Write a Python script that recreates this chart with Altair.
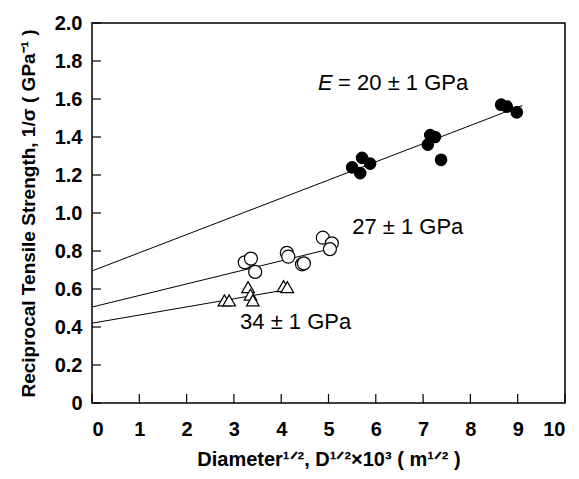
import altair as alt
import pandas as pd

# E = 20 GPa (filled circles)
black_x = [5.50, 5.71, 5.88, 5.67, 7.15, 7.10, 7.25, 7.38, 8.65, 8.77, 8.98]
black_y = [1.24, 1.29, 1.26, 1.21, 1.41, 1.36, 1.40, 1.28, 1.57, 1.56, 1.53]
# E = 27 GPa (open circles)
open_x = [3.23, 3.36, 3.45, 4.12, 4.15, 4.44, 4.48, 4.88, 5.07, 5.03]
open_y = [0.74, 0.76, 0.69, 0.79, 0.77, 0.73, 0.735, 0.87, 0.84, 0.81]
# E = 34 GPa (open triangles)
tri_x = [2.80, 2.90, 3.30, 3.35, 3.40, 4.05, 4.13]
tri_y = [0.54, 0.54, 0.61, 0.57, 0.54, 0.615, 0.61]

# fitted lines: start/end points
fit_group = ["20", "27", "34"]
fit_x0 = [0.0, 0.0, 0.0]
fit_y0 = [0.695, 0.505, 0.42]
fit_x1 = [9.1, 5.1, 4.2]
fit_y1 = [1.566, 0.815, 0.60]

# annotation labels
lab_text = ["= 20 \u00b1 1 GPa", "27 \u00b1 1 GPa", "34 \u00b1 1 GPa"]
lab_x = [4.78, 5.5, 3.13]
lab_y = [1.685, 0.926, 0.426]

x_ticks = list(range(0, 11))
y_ticks = [0, 0.2, 0.4, 0.6, 0.8, 1.0, 1.2, 1.4, 1.6, 1.8, 2.0]

df_black = pd.DataFrame({"x": black_x, "y": black_y})
df_open = pd.DataFrame({"x": open_x, "y": open_y})
df_tri = pd.DataFrame({"x": tri_x, "y": tri_y})
df_fit = pd.DataFrame({"g": fit_group, "x": fit_x0, "y": fit_y0, "x2": fit_x1, "y2": fit_y1})
df_lab = pd.DataFrame({"t": lab_text, "x": lab_x, "y": lab_y})
df_e = df_lab.iloc[[0]]
df_xt = pd.DataFrame({"v": x_ticks})
df_yt = pd.DataFrame({"v": y_ticks})

FONT = "Liberation Sans"

xscale = alt.Scale(domain=[0, 10], nice=False, zero=False)
yscale = alt.Scale(domain=[0, 2], nice=False, zero=False)

xaxis = alt.Axis(
    values=x_ticks, title="Diameter\u00b9\u141f\u00b2, D\u00b9\u141f\u00b2\u00d710\u00b3 ( m\u00b9\u141f\u00b2 )",
    grid=False, domain=False, ticks=False, labelPadding=16,
    labelFontSize=20, labelFontWeight="bold", labelFont=FONT, labelColor="black",
    titleFontSize=20, titleFontWeight="bold", titleFont=FONT, titleColor="black",
    titlePadding=10,
)
yaxis = alt.Axis(
    values=y_ticks, title="Reciprocal Tensile Strength, 1/\u03c3 ( GPa\u207b\u00b9 )",
    grid=False, domain=False, ticks=False, labelPadding=10,
    labelExpr="datum.value == 0 ? '0' : format(datum.value, '.1f')",
    labelFontSize=20, labelFontWeight="bold", labelFont=FONT, labelColor="black",
    titleFontSize=19, titleFontWeight="bold", titleFont=FONT, titleColor="black",
    titlePadding=16,
)

X = lambda: alt.X("x:Q", scale=xscale, axis=xaxis)
Y = lambda: alt.Y("y:Q", scale=yscale, axis=yaxis)

lines = alt.Chart(df_fit).mark_rule(color="black", strokeWidth=1).encode(
    x=X(), y=Y(), x2="x2:Q", y2="y2:Q"
)
black = alt.Chart(df_black).mark_point(
    shape="circle", filled=True, color="black", size=160, opacity=1
).encode(x=X(), y=Y())
opens = alt.Chart(df_open).mark_point(
    shape="circle", filled=True, fill="white", stroke="black", strokeWidth=1.2, size=170, opacity=1
).encode(x=X(), y=Y())
tris = alt.Chart(df_tri).mark_point(
    shape="triangle-up", filled=True, fill="white", stroke="black", strokeWidth=1.2, size=160, opacity=1
).encode(x=X(), y=Y())

# first label shifted right to make room for italic E
lab_first = alt.Chart(df_e).mark_text(
    align="left", baseline="middle", font=FONT, fontSize=22, color="black", dx=20
).encode(x=X(), y=Y(), text="t:N")
lab_rest = alt.Chart(df_lab.iloc[1:]).mark_text(
    align="left", baseline="middle", font=FONT, fontSize=22, color="black"
).encode(x=X(), y=Y(), text="t:N")
lab_E = alt.Chart(df_e).mark_text(
    align="left", baseline="middle", font=FONT, fontSize=22, fontStyle="italic", color="black"
).encode(x=X(), y=Y(), text=alt.value("E"))

xt = alt.Chart(df_xt).mark_rule(color="black", strokeWidth=1.2).encode(
    x=alt.X("v:Q", scale=xscale, axis=xaxis), y=alt.value(380), y2=alt.value(371)
)
yt = alt.Chart(df_yt).mark_rule(color="black", strokeWidth=1.2).encode(
    y=alt.Y("v:Q", scale=yscale, axis=yaxis), x=alt.value(0), x2=alt.value(9)
)

chart = alt.layer(lines, black, opens, tris, lab_first, lab_rest, lab_E, xt, yt).properties(
    width=473, height=380,
    autosize=alt.AutoSizeParams(type="none"),
    padding={"left": 92, "top": 23, "right": 14, "bottom": 76},
    background="white",
).configure_view(stroke="black", strokeWidth=1.5)

chart.save("out.html", embed_options={"renderer": "svg", "actions": False})
